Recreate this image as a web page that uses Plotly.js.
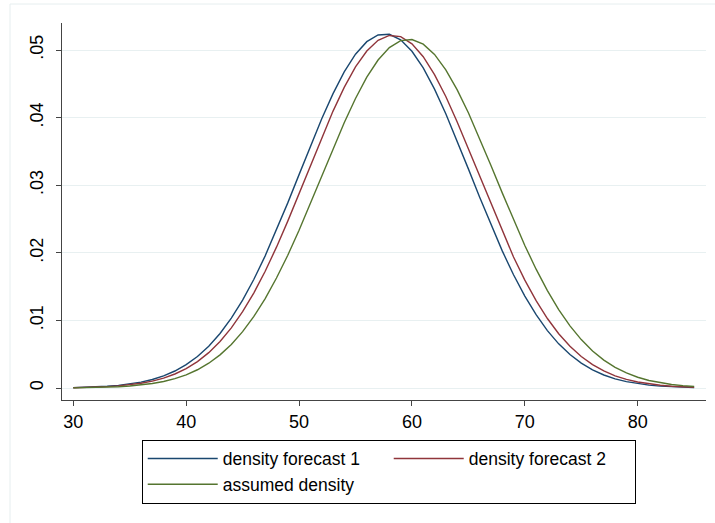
<!DOCTYPE html>
<html><head><meta charset="utf-8">
<script src="https://cdn.plot.ly/plotly-3.0.1.min.js"></script>
<style>html,body{margin:0;padding:0;background:#fff}</style>
</head><body>
<div id="chart" style="width:715px;height:523px"></div>
<script>
const xValues = [30,31,32,33,34,35,36,37,38,39,40,41,42,43,44,45,46,47,48,49,50,51,52,53,54,55,56,57,58,59,60,61,62,63,64,65,66,67,68,69,70,71,72,73,74,75,76,77,78,79,80,81,82,83,84,85];
const forecast1 = [0.0000657,0.000106,0.000167,0.000259,0.000396,0.000594,0.000875,0.001267,0.001802,0.002519,
0.003462,0.004673,0.006195,0.008075,0.010344,0.013016,0.016097,0.019556,0.02335,0.02739,
0.03157,0.03576,0.0398,0.04352,0.04677,0.04938,0.05124,0.05223,0.05233,0.05151,
0.04982,0.04735,0.04422,0.04057,0.03658,0.03242,0.02822,0.02414,0.02029,0.01676,
0.0136,0.01085,0.0085,0.00654,0.00495,0.00368,0.00269,0.00193,0.00136,0.000943,
0.000642,0.00043,0.000282,0.000183,0.000116,0.0000723];
const forecast2 = [0.0000509,0.0000824,0.000131,0.000205,0.000315,0.000475,0.000705,0.001028,0.001474,0.002076,
0.002876,0.003912,0.005236,0.00688,0.00889,0.01129,0.01409,0.01728,0.02084,0.02469,
0.02876,0.03291,0.03702,0.04093,0.04448,0.0475,0.04986,0.05144,0.05216,0.05198,
0.05091,0.04901,0.04636,0.04312,0.0394,0.03539,0.03124,0.02711,0.02312,0.01938,
0.01596,0.01292,0.01028,0.00804,0.00618,0.00467,0.00347,0.00253,0.00181,0.00128,
0.000886,0.000603,0.000404,0.000265,0.000172,0.000109];
const assumedDensity = [0.0000303,0.0000496,0.0000799,0.000126,0.000197,0.000301,0.000452,0.000669,0.000973,0.001391,
0.001956,0.002703,0.003674,0.00491,0.006455,0.008344,0.0106,0.01324,0.01627,0.01965,
0.02334,0.02726,0.0313,0.03534,0.03924,0.04283,0.04598,0.04852,0.05036,0.05139,
0.05156,0.05087,0.04935,0.04707,0.04415,0.04072,0.03692,0.03292,0.02887,0.02488,
0.02109,0.01758,0.01441,0.01161,0.0092,0.00717,0.00549,0.00413,0.00306,0.00223,
0.0016,0.00112,0.000779,0.00053,0.000355,0.000233];
const seriesNames = ['density forecast 1','density forecast 2','assumed density'];
const xTickVals = [30,40,50,60,70,80];
const xTickText = ['30','40','50','60','70','80'];
const yTickVals = [0,0.01,0.02,0.03,0.04,0.05];
const yTickText = ['0','.01','.02','.03','.04','.05'];

const colors = ['#1a476f','#90353b','#55752f'];
const ys = [forecast1, forecast2, assumedDensity];
const traces = ys.map((y,i)=>({
  type:'scatter', mode:'lines', x:xValues, y:y, name:seriesNames[i],
  line:{color:colors[i], width:1.4}, hoverinfo:'skip'
}));

const axisCommon = {showline:true, linecolor:'#444', linewidth:1, ticks:'outside', ticklen:5, tickcolor:'#444', tickwidth:1, zeroline:false, fixedrange:true};
const layout = {
  width:715, height:523,
  margin:{l:62, r:9, t:23, b:123, autoexpand:false},
  paper_bgcolor:'#ffffff', plot_bgcolor:'#ffffff',
  font:{family:'"Liberation Sans", Arial, sans-serif', color:'#000', size:17},
  showlegend:true,
  xaxis:Object.assign({}, axisCommon, {range:[29.0,86.05], tickmode:'array', tickvals:xTickVals, ticktext:xTickText, showgrid:false, tickfont:{size:18}, ticklabelstandoff:0}),
  yaxis:Object.assign({}, axisCommon, {range:[-0.00177,0.054], tickmode:'array', tickvals:yTickVals, ticktext:yTickText, tickangle:-90, showgrid:true, gridcolor:'#e8f0f1', gridwidth:1, tickfont:{size:18}, ticklabelstandoff:6}),
  legend:{orientation:'h', x:0.1238, xanchor:'left', y:-0.105, yanchor:'top', bordercolor:'#000', borderwidth:1, bgcolor:'#fff', font:{size:17.5}, itemwidth:70, entrywidth:161, entrywidthmode:'pixels', traceorder:'normal', tracegroupgap:0},
  shapes:[{type:'rect', xref:'paper', yref:'paper', x0:(10-62)/644, x1:1.05, y0:-0.4, y1:(400-4)/377, line:{color:'#e6eeef', width:1}, fillcolor:'rgba(0,0,0,0)', layer:'below'}]
};
Plotly.newPlot('chart', traces, layout, {staticPlot:true, displayModeBar:false});
</script>
</body></html>
